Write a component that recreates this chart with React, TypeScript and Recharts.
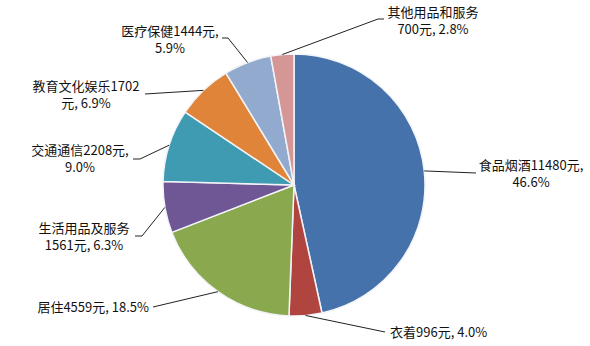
import React from "react";
import { PieChart, Pie, Cell } from "recharts";

const categories = ["食品烟酒", "衣着", "居住", "生活用品及服务", "交通通信", "教育文化娱乐", "医疗保健", "其他用品和服务"];
const amounts = [11480, 996, 4559, 1561, 2208, 1702, 1444, 700];
const percents = ["46.6%", "4.0%", "18.5%", "6.3%", "9.0%", "6.9%", "5.9%", "2.8%"];

const COLORS = ["#4672AC", "#B0443F", "#8AA84E", "#6F5695", "#3E9BB2", "#E0843A", "#93AACF", "#D59795"];

// label text lines per slice
const labelLines = [
  [`${categories[0]}${amounts[0]}元,`, percents[0]],
  [`${categories[1]}${amounts[1]}元, ${percents[1]}`],
  [`${categories[2]}${amounts[2]}元, ${percents[2]}`],
  [categories[3], `${amounts[3]}元, ${percents[3]}`],
  [`${categories[4]}${amounts[4]}元,`, percents[4]],
  [`${categories[5]}${amounts[5]}`, `元, ${percents[5]}`],
  [`${categories[6]}${amounts[6]}元,`, percents[6]],
  [categories[7], `${amounts[7]}元, ${percents[7]}`],
];

// where each label sits (text x/y of first line, anchor) and the leader elbow points
const labelLayout = [
  { x: 531, y: 166, anchor: "middle", path: [[476, 173]] },
  { x: 390, y: 333, anchor: "start", path: [[385, 332]] },
  { x: 149, y: 308, anchor: "end", path: [[153, 307]] },
  { x: 84, y: 229, anchor: "middle", path: [[142, 236], [135, 236]] },
  { x: 80, y: 151, anchor: "middle", path: [[140, 159], [133, 159]] },
  { x: 86, y: 87, anchor: "middle", path: [[145, 94]] },
  { x: 170, y: 32, anchor: "middle", path: [[228, 38], [222, 38]] },
  { x: 433, y: 13, anchor: "middle", path: [[378, 19], [384, 19]] },
];

const data = categories.map((name, i) => ({ name, value: amounts[i] }));

const RADIAN = Math.PI / 180;

function renderLabel(props: any) {
  const { cx, cy, midAngle, outerRadius, index } = props;
  const sx = cx + outerRadius * Math.cos(-midAngle * RADIAN);
  const sy = cy + outerRadius * Math.sin(-midAngle * RADIAN);
  const lay = labelLayout[index];
  const pts = [[sx, sy], ...lay.path].map((p) => p.join(",")).join(" ");
  return (
    <g key={`lbl-${index}`}>
      <polyline points={pts} fill="none" stroke="#222" strokeWidth={1} />
      <text
        x={lay.x}
        y={lay.y}
        textAnchor={lay.anchor as any}
        dominantBaseline="middle"
        fontSize={13}
        fill="#111"
        fontFamily="'Noto Sans CJK SC', 'Noto Sans', sans-serif"
      >
        {labelLines[index].map((t, j) => (
          <tspan key={j} x={lay.x} dy={j === 0 ? 0 : 17}>
            {t}
          </tspan>
        ))}
      </text>
    </g>
  );
}

export default function App() {
  return (
    <div style={{ width: 590, height: 346, background: "#fff" }}>
      <style>{"body{margin:0}"}</style>
      <PieChart width={590} height={346} margin={{ top: 0, right: 0, bottom: 0, left: 0 }}>
        <Pie
          data={data}
          dataKey="value"
          nameKey="name"
          cx={294}
          cy={185}
          outerRadius={131}
          startAngle={90}
          endAngle={-270}
          stroke="#F2F4F8"
          strokeWidth={1.5}
          label={renderLabel}
          labelLine={false}
          isAnimationActive={false}
        >
          {data.map((_, i) => (
            <Cell key={i} fill={COLORS[i]} />
          ))}
        </Pie>
      </PieChart>
    </div>
  );
}
